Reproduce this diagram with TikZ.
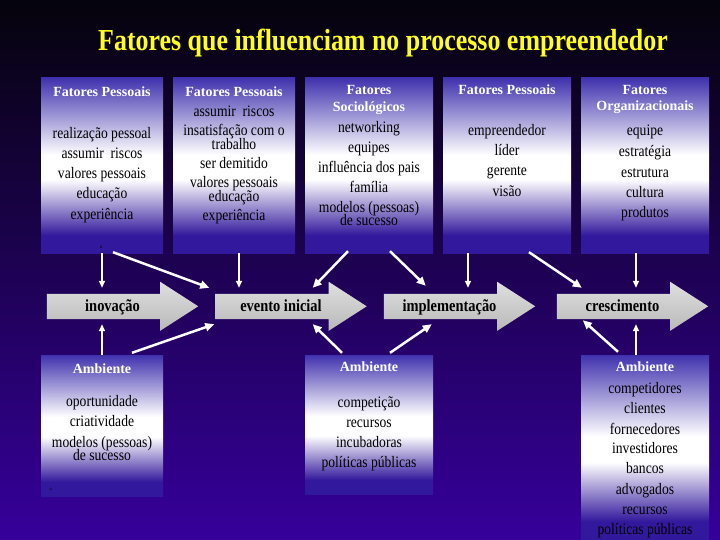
\documentclass[tikz,border=0pt]{standalone}
\usepackage{fontspec}
\setmainfont{Liberation Serif}
\newfontfamily\narrowserif[FakeStretch=0.85]{Liberation Serif}
\usetikzlibrary{arrows.meta,calc}

\definecolor{bgtop}{RGB}{5,3,12}
\definecolor{bgmid}{RGB}{32,6,104}
\definecolor{bgbot}{RGB}{54,0,155}
\definecolor{boxtop}{RGB}{64,50,174}
\definecolor{boxbot}{RGB}{50,24,156}
\definecolor{titleyellow}{RGB}{255,255,30}
\pgfdeclareverticalshading{factorshade}{100bp}{color(0bp)=(boxbot); color(25bp)=(boxbot); color(30bp)=(boxbot); color(46bp)=(white); color(53bp)=(white); color(75bp)=(boxtop); color(100bp)=(boxtop)}

\tikzset{
  factorbox/.style={rectangle, shade, shading=factorshade, inner sep=0pt, minimum width=122pt},
  boxhead/.style={anchor=base, inner sep=0pt, text=white, font=\bfseries\fontsize{14}{16}\selectfont},
  boxitem/.style={anchor=base, inner sep=0pt, text=black, font=\narrowserif\fontsize{16}{18}\selectfont},
  stagebody/.style={rectangle, inner sep=0pt, minimum width=113pt, minimum height=25pt},
  stagefill/.style={top color=gray!25, middle color=white, bottom color=gray!55},
  stagetext/.style={anchor=base, inner sep=0pt, font=\narrowserif\bfseries\fontsize{17}{20}\selectfont},
  tinymark/.style={anchor=base, inner sep=0pt, font=\fontsize{5}{6}\selectfont},
  link/.style={draw=white, line width=1.5pt, -{Triangle[length=7pt,width=6pt]}},
  slant/.style={link, line width=2.5pt, -{Triangle[length=9pt,width=8pt]}},
}

\begin{document}
\begin{tikzpicture}[x=1pt,y=-1pt]
\useasboundingbox (0,0) rectangle (720,540);
\shade[top color=bgtop, middle color=bgmid, bottom color=bgbot] (0,0) rectangle (720,540);

\node[anchor=base, inner sep=0pt, text=titleyellow, font=\narrowserif\bfseries\fontsize{30.5}{36}\selectfont] (title) at (383,51) {Fatores que influenciam no processo empreendedor};

\node[factorbox, minimum height=175pt] (p1) at (102,165.5) {};
\node[factorbox, minimum height=175pt] (p2) at (234,165.5) {};
\node[factorbox, minimum height=175pt, minimum width=128pt] (p3) at (369,165.5) {};
\node[factorbox, minimum height=175pt, minimum width=128pt] (p4) at (507,165.5) {};
\node[factorbox, minimum height=175pt, minimum width=128pt] (p5) at (645,165.5) {};
\node[factorbox, minimum height=141pt] (a1) at (102,425.5) {};
\node[factorbox, minimum height=139pt, minimum width=128pt] (a2) at (369,424.5) {};
\node[factorbox, minimum height=185pt, minimum width=128pt] (a3) at (645,447.5) {};

\node[boxhead] (p1-h) at (102,96.7) {Fatores Pessoais};
\node[boxhead] (p2-h) at (234,96.7) {Fatores Pessoais};
\node[boxhead] (p3-h) at (369,95) {Fatores};
\node[boxhead] (p3-h2) at (369,111.7) {Sociológicos};
\node[boxhead] (p4-h) at (507,95) {Fatores Pessoais};
\node[boxhead] (p5-h) at (645,95) {Fatores};
\node[boxhead] (p5-h2) at (645,110.7) {Organizacionais};
\node[boxhead] (a1-h) at (102,373.3) {Ambiente};
\node[boxhead] (a2-h) at (369,371.7) {Ambiente};
\node[boxhead] (a3-h) at (645,371.7) {Ambiente};

\foreach \txt/\y [count=\i] in {realização pessoal/139, assumir\ \ riscos/159, valores pessoais/179, educação/199, experiência/219}
  \node[boxitem] (p1-\i) at (102,\y) {\txt};
\foreach \txt/\y [count=\i] in {assumir\ \ riscos/116.7, insatisfação com o/136, trabalho/150, ser demitido/169, valores pessoais/188, educação/201.5, experiência/220.7}
  \node[boxitem] (p2-\i) at (234,\y) {\txt};
\foreach \txt/\y [count=\i] in {networking/133, equipes/153, influência dos pais/172.7, família/193, modelos (pessoas)/212.5, de sucesso/225.5}
  \node[boxitem] (p3-\i) at (369,\y) {\txt};
\foreach \txt/\y [count=\i] in {empreendedor/135.7, líder/156, gerente/176, visão/196.7}
  \node[boxitem] (p4-\i) at (507,\y) {\txt};
\foreach \txt/\y [count=\i] in {equipe/135.7, estratégia/156.7, estrutura/177.3, cultura/197.3, produtos/217.7}
  \node[boxitem] (p5-\i) at (645,\y) {\txt};
\foreach \txt/\y [count=\i] in {oportunidade/406.7, criatividade/426.7, modelos (pessoas)/447.5, de sucesso/460}
  \node[boxitem] (a1-\i) at (102,\y) {\txt};
\foreach \txt/\y [count=\i] in {competição/407.7, recursos/427.7, incubadoras/447.7, políticas públicas/467.7}
  \node[boxitem] (a2-\i) at (369,\y) {\txt};
\foreach \txt/\y [count=\i] in {competidores/393.3, clientes/413.3, fornecedores/434, investidores/453.3, bancos/473.3, advogados/494, recursos/514, políticas públicas/534}
  \node[boxitem] (a3-\i) at (645,\y) {\txt};

\node[tinymark] (mark1) at (101,248) {a};
\node[tinymark] (mark2) at (50.7,490.7) {a};

\foreach \nm/\cx/\txt in {inov/103.5/inovação, even/272/evento inicial, impl/440.5/implementação, cres/613.5/crescimento}{
  \node[stagebody] (\nm) at (\cx,306.5) {};
  \shade[stagefill] (\nm.north west) -- (\nm.north east) -- ++(0,-12) -- ++(38,24.5) -- ++(-38,24.5) -- (\nm.south east) -- (\nm.south west) -- cycle;
  \node[stagetext] (\nm-txt) at ($(\nm.center)+(9,4.5)$) {\txt};
}

\draw[link] (p1.south) -- ($(p1.south |- inov.north)+(0,-6)$);
\draw[slant] ($(p1.south)+(11,-1)$) -- ($(even.north west)+(-6,-6)$);
\draw[link] ($(p2.south)+(5,0)$) -- ($(p2.south |- even.north)+(5,-6)$);
\draw[slant] ($(p3.south)+(-21,-2)$) -- ($(even.north east)+(-16,-6)$);
\draw[slant] ($(p3.south)+(21,-2)$) -- ($(impl.north west)+(42,-8)$);
\draw[link] ($(p4.south)+(-39,0)$) -- ($(p4.south |- impl.north)+(-39,-6)$);
\draw[slant] ($(p4.south)+(22,-1)$) -- ($(cres.north west)+(25,-6)$);
\draw[link] ($(p5.south)+(-9,0)$) -- ($(p5.south |- cres.north)+(-9,-6)$);

\draw[link] (a1.north) -- ($(a1.north |- inov.south)+(0,5)$);
\draw[slant] ($(a1.north)+(30,-2)$) -- ($(even.south west)+(-1,5)$);
\draw[slant] ($(a2.north)+(-27,-2)$) -- ($(even.south east)+(-16,5)$);
\draw[slant] ($(a2.north)+(21,-2)$) -- ($(impl.south west)+(48,5)$);
\draw[slant] ($(a3.north)+(-27,-3)$) -- ($(cres.south west)+(26,1)$);
\draw[link] ($(a3.north)+(-9,0)$) -- ($(a3.north |- cres.south)+(-9,5)$);
\end{tikzpicture}
\end{document}
